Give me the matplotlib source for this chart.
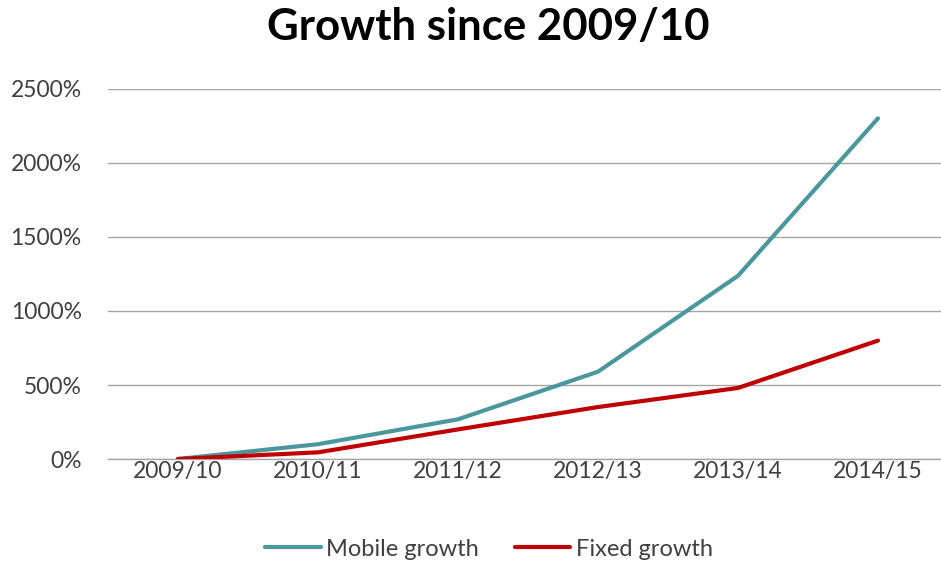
import matplotlib
matplotlib.use("Agg")
import matplotlib.pyplot as plt
from matplotlib.ticker import FuncFormatter

categories = ["2009/10", "2010/11", "2011/12", "2012/13", "2013/14", "2014/15"]
mobile_growth = [0, 100, 268, 590, 1238, 2302]
fixed_growth = [0, 45, 200, 351, 480, 800]
y_ticks = [0, 500, 1000, 1500, 2000, 2500]

plt.rcParams['font.family'] = ['Lato', 'DejaVu Sans']

fig = plt.figure(figsize=(9.41, 5.65), dpi=100)
ax = fig.add_axes([108/941, 1-459/565, 1-108/941, (459-89)/565])

x = list(range(len(categories)))
ax.plot(x, mobile_growth, color="#4A979D", lw=3.0, solid_capstyle="round", solid_joinstyle="round", label="Mobile growth", zorder=3)
ax.plot(x, fixed_growth, color="#C00000", lw=3.0, solid_capstyle="round", solid_joinstyle="round", label="Fixed growth", zorder=3)

ax.set_ylim(0, 2500)
ax.set_xlim(-0.5, 5.45)
ax.set_yticks(y_ticks)
ax.yaxis.set_major_formatter(FuncFormatter(lambda v, p: f"{int(v)}%"))
ax.set_xticks(x)
ax.set_xticklabels(categories)
ax.grid(axis="y", color="#A6A6A6", lw=1.0)
ax.set_axisbelow(True)
for s in ["top", "right", "left"]:
    ax.spines[s].set_visible(False)
ax.spines["bottom"].set_color("#A6A6A6")
ax.spines["bottom"].set_linewidth(1.0)
ax.tick_params(axis="y", length=0, pad=19, labelsize=16.5, labelcolor="#404040")
ax.tick_params(axis="x", length=0, pad=1.5, labelsize=16.5, labelcolor="#404040")

fig.text(488/941, 1-27/565, "Growth since 2009/10", ha="center", va="center",
         fontsize=31.5, fontweight="bold", color="black")

leg = fig.legend(loc="center", bbox_to_anchor=(489/941, 1-549/565), ncol=2, frameon=False,
                 fontsize=17, handlelength=2.35, columnspacing=1.5, handletextpad=0.25)
for t in leg.get_texts():
    t.set_color("#404040")

fig.savefig("out.png", dpi=100)
